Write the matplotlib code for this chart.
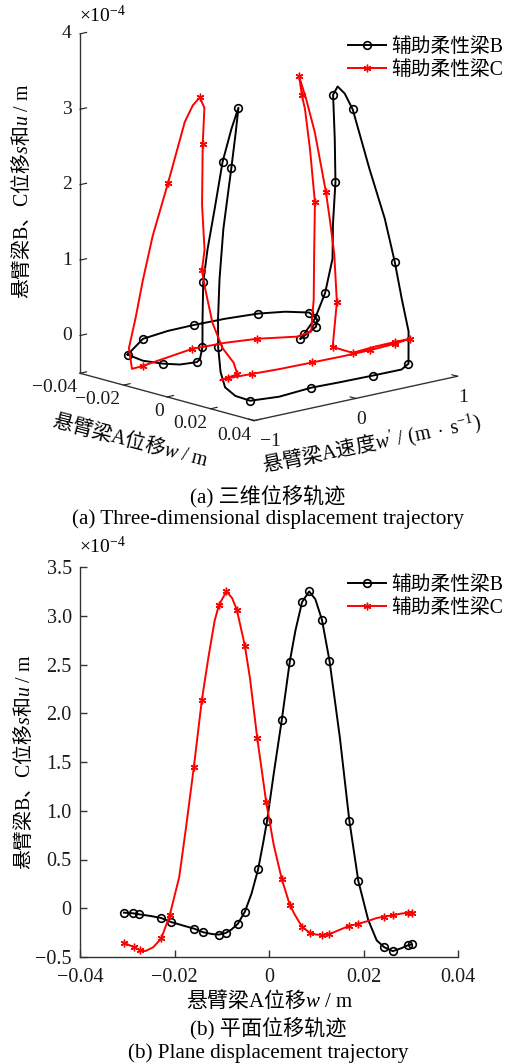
import numpy as np
import matplotlib
matplotlib.use("Agg")
import matplotlib.pyplot as plt

plt.rcParams['font.family'] = ['Liberation Serif', 'Noto Sans CJK SC']
plt.rcParams['mathtext.fontset'] = 'custom'
plt.rcParams['mathtext.rm'] = 'Liberation Serif'
plt.rcParams['mathtext.sf'] = 'Liberation Serif'
plt.rcParams['mathtext.it'] = 'Liberation Serif:italic'
plt.rcParams['axes.unicode_minus'] = True

# ---- (a) 3D trajectory: w (m), w' (m/s), s/u (x1e-4 m) ----
w3_b = [-0.0214, -0.0281, -0.0297, -0.0299, -0.0294, -0.0282, -0.0258, -0.0225, -0.0186, -0.0152,
        -0.0101, -0.0061, -0.0044, -0.0024, -0.0006, 0.0010, 0.0029, 0.0043, 0.0070, 0.0090,
        0.0100, 0.0113, 0.0140, 0.0157, 0.0169, 0.0186, 0.0208, 0.0245, 0.0272, 0.0270,
        0.0265, 0.0293, 0.0305, 0.0298, 0.0236, 0.0220, 0.0202, 0.0188, 0.0180, 0.0164,
        0.0148, 0.0132, 0.0112, 0.0086, 0.0065, 0.0042, 0.0027, 0.0010, -0.0003, -0.0024,
        -0.0049, -0.0072, -0.0085, -0.0108, -0.0137, -0.0170, -0.0214]
v3_b = [-0.930, -0.636, -0.356, -0.095, 0.200, 0.500, 0.713, 0.880, 0.875, 0.790,
        0.525, 0.476, 0.550, 0.605, 0.640, 0.610, 0.594, 0.557, 0.483, 0.485,
        0.533, 0.584, 0.690, 0.805, 0.877, 0.910, 0.930, 0.850, 0.724, 0.443,
        0.126, -0.208, -0.550, -0.820, -0.834, -0.900, -0.906, -0.900, -0.884, -0.835,
        -0.763, -0.650, -0.566, -0.482, -0.506, -0.544, -0.590, -0.623, -0.638, -0.600,
        -0.547, -0.524, -0.525, -0.644, -0.749, -0.875, -0.930]
s3_b = [-0.128, -0.057, -0.047, -0.046, -0.047, -0.057, -0.076, -0.110, -0.170, -0.215,
        -0.260, -0.152, 0.052, 0.385, 0.845, 1.325, 1.905, 2.500, 3.125, 3.250,
        3.150, 2.935, 2.140, 1.457, 0.875, 0.385, -0.035, -0.410, -0.430, -0.430,
        -0.430, -0.380, -0.390, -0.370, -0.350, -0.230, -0.040, 0.280, 0.643, 1.145,
        1.775, 2.540, 2.950, 3.250, 2.960, 2.515, 1.892, 1.358, 0.912, 0.393,
        -0.015, -0.200, -0.245, -0.260, -0.240, -0.190, -0.128]
mk3_b = [0, 1, 3, 5, 7, 9, 10, 11, 12, 13, 16, 18, 21, 24, 27, 29, 31, 33, 37, 41, 43, 45, 48, 50, 52, 54]

w3_c = [0.0214, 0.0281, 0.0297, 0.0299, 0.0294, 0.0282, 0.0258, 0.0225, 0.0186, 0.0152,
        0.0101, 0.0061, 0.0044, 0.0024, 0.0006, -0.0002, -0.0010, -0.0029, -0.0053, -0.0070,
        -0.0090, -0.0100, -0.0113, -0.0140, -0.0157, -0.0169, -0.0186, -0.0208, -0.0275, -0.0278,
        -0.0287, -0.0304, -0.0297, -0.0287, -0.0257, -0.0240, -0.0199, -0.0176, -0.0157, -0.0140,
        -0.0120, -0.0112, -0.0086, -0.0065, -0.0042, -0.0020, -0.0010, 0.0003, 0.0028, 0.0075,
        0.0143, 0.0137, 0.0170, 0.0214]
v3_c = [0.930, 0.636, 0.356, 0.095, -0.200, -0.500, -0.713, -0.880, -0.875, -0.790,
        -0.525, -0.476, -0.550, -0.605, -0.640, -0.653, -0.610, -0.594, -0.536, -0.483,
        -0.485, -0.533, -0.584, -0.690, -0.805, -0.877, -0.910, -0.930, -0.757, -0.645,
        -0.426, -0.103, 0.207, 0.500, 0.830, 0.930, 0.868, 0.823, 0.790, 0.705,
        0.613, 0.566, 0.482, 0.506, 0.544, 0.605, 0.623, 0.638, 0.610, 0.468,
        0.519, 0.749, 0.875, 0.930]
s3_c = [-0.128, -0.057, -0.047, -0.046, -0.047, -0.057, -0.076, -0.110, -0.170, -0.215,
        -0.260, -0.152, 0.052, 0.385, 0.845, 1.076, 1.325, 1.905, 2.675, 3.125,
        3.250, 3.150, 2.935, 2.140, 1.457, 0.875, 0.385, -0.035, -0.415, -0.412,
        -0.390, -0.365, -0.370, -0.395, -0.440, -0.390, 0.087, 0.717, 1.432, 2.175,
        2.748, 2.950, 3.250, 2.960, 2.515, 1.730, 1.358, 0.912, 0.307, -0.210,
        -0.250, -0.240, -0.190, -0.128]
mk3_c = [0, 1, 2, 4, 6, 7, 10, 15, 18, 20, 23, 29, 31, 33, 38, 41, 42, 45, 48, 49, 50, 52]

# ---- (b) plane trajectory ----
w2_b = [-0.0307, -0.0287, -0.0275, -0.0250, -0.0228, -0.0208, -0.0180, -0.0158, -0.0140, -0.0120,
        -0.0106, -0.0092, -0.0080, -0.0066, -0.0051, -0.0037, -0.0023, -0.0012, -0.0004, 0.0010,
        0.0027, 0.0044, 0.0056, 0.0070, 0.0085, 0.0098, 0.0112, 0.0128, 0.0150, 0.0170,
        0.0189, 0.0210, 0.0228, 0.0244, 0.0262, 0.0280, 0.0294, 0.0302]
s2_b = [-0.045, -0.052, -0.062, -0.080, -0.100, -0.140, -0.180, -0.210, -0.245, -0.265,
        -0.270, -0.255, -0.220, -0.160, -0.035, 0.150, 0.400, 0.680, 0.900, 1.380,
        1.930, 2.530, 2.850, 3.140, 3.250, 3.170, 2.960, 2.540, 1.750, 0.900,
        0.280, -0.120, -0.330, -0.400, -0.440, -0.410, -0.380, -0.370]
mk2_b = [0, 1, 2, 4, 5, 7, 8, 10, 11, 13, 14, 16, 18, 20, 21, 23, 24, 26, 27, 29, 30, 33, 34, 36, 37]

w2_c = [-0.0307, -0.0295, -0.0285, -0.0273, -0.0262, -0.0245, -0.0228, -0.0210, -0.0190, -0.0175,
        -0.0159, -0.0142, -0.0128, -0.0115, -0.0106, -0.0090, -0.0078, -0.0068, -0.0051, -0.0040,
        -0.0025, -0.0012, -0.0006, 0.0010, 0.0027, 0.0044, 0.0055, 0.0070, 0.0086, 0.0100,
        0.0113, 0.0128, 0.0150, 0.0170, 0.0189, 0.0210, 0.0228, 0.0244, 0.0262, 0.0280,
        0.0294, 0.0302]
s2_c = [-0.355, -0.380, -0.400, -0.430, -0.440, -0.400, -0.310, -0.070, 0.320, 0.850,
        1.450, 2.140, 2.580, 2.950, 3.110, 3.250, 3.180, 3.060, 2.690, 2.350,
        1.750, 1.300, 1.090, 0.650, 0.300, 0.035, -0.070, -0.190, -0.250, -0.270,
        -0.275, -0.265, -0.220, -0.180, -0.160, -0.130, -0.100, -0.086, -0.072, -0.055,
        -0.045, -0.045]
mk2_c = [0, 2, 3, 6, 7, 10, 11, 14, 15, 17, 18, 20, 22, 24, 25, 27, 28, 30, 31, 33, 34, 37, 38, 40, 41]

names = ['辅助柔性梁B', '辅助柔性梁C']
w_ticks = [-0.04, -0.02, 0, 0.02, 0.04]
w_ticklabels = ['−0.04', '−0.02', '0', '0.02', '0.04']
v_ticks = [-1, 0, 1]
v_ticklabels = ['−1', '0', '1']
z3_ticks = [0, 1, 2, 3, 4]
y2_ticks = [-0.5, 0, 0.5, 1.0, 1.5, 2.0, 2.5, 3.0, 3.5]
y2_ticklabels = ['−0.5', '0', '0.5', '1.0', '1.5', '2.0', '2.5', '3.0', '3.5']

lbl_su = r'悬臂梁$\mathsf{B}$、$\mathsf{C}$位移$s$和$u\mathsf{\ /\ m}$'
lbl_w = r'悬臂梁$\mathsf{A}$位移$w\mathsf{\ /\ m}$'
lbl_v = r"悬臂梁$\mathsf{A}$速度$w'\mathsf{\ /\ (m}\ \cdot\ \mathsf{s}^{-1}\mathsf{)}$"
cjk = 'Noto Sans CJK SC'

W, H = 509, 1064
fig = plt.figure(figsize=(W / 100, H / 100), dpi=100)

sty_b = dict(color='black', lw=1.4, marker='o', ms=5.5, mfc='none', mec='black', mew=1.2)
sty_c = dict(color='red', lw=1.4, marker=(6, 2, 0), ms=5.5, mec='red', mew=1.0)

# ---------------- 3D panel ----------------
ax3 = fig.add_axes([12.1 / W, 1 - 461.7 / H, 499.8 / W, 499.8 / H],
                   projection='3d', proj_type='ortho')
ax3.view_init(elev=14.09, azim=-41.84)
ax3.set_box_aspect((1, 1.046, 1.341))
lb, = ax3.plot(w3_b, v3_b, s3_b, markevery=mk3_b, label=names[0], **sty_b)
lc, = ax3.plot(w3_c, v3_c, s3_c, markevery=mk3_c, label=names[1], **sty_c)
ax3.set_xlim(-0.04, 0.04)
ax3.set_ylim(-1, 1)
ax3.set_zlim(-0.5, 4)
ax3.set_xticks(w_ticks, w_ticklabels)
ax3.set_yticks(v_ticks, v_ticklabels)
ax3.set_zticks(z3_ticks)
ax3.zaxis.set_ticks_position('lower')
ax3.grid(False)
ax3.set_facecolor('none')
for axis in (ax3.xaxis, ax3.yaxis, ax3.zaxis):
    axis.set_pane_color((1, 1, 1, 0))
    axis.pane.set_edgecolor((1, 1, 1, 0))
    axis.line.set_color('0.2')
    axis.line.set_linewidth(1.0)
    axis._axinfo['tick']['inward_factor'] = 0.0
    axis._axinfo['tick']['outward_factor'] = 0.4
ax3.tick_params(labelsize=14, colors='0.1')
ax3.tick_params(axis='x', pad=-5)
ax3.tick_params(axis='y', pad=-2)
ax3.tick_params(axis='z', pad=-1.5)
for t in ax3.xaxis.get_major_ticks():
    t.label1.set_horizontalalignment('right')
    t.label1.set_verticalalignment('top')
for i, t in enumerate(ax3.yaxis.get_major_ticks()):
    t.label1.set_horizontalalignment('left' if i == 0 else 'center')
    t.label1.set_verticalalignment('top')
for t in ax3.zaxis.get_major_ticks():
    t.label1.set_horizontalalignment('center')
    t.label1.set_verticalalignment('center')

fig.text(22 / W, 1 - 191 / H, lbl_su, rotation=90, family=cjk,
         ha='center', va='center', fontsize=14.3)
fig.text(131 / W, 1 - 440 / H, lbl_w, rotation=-14.5, family=cjk,
         ha='center', va='center', fontsize=14.5, rotation_mode='anchor')
fig.text(372 / W, 1 - 444 / H, lbl_v, rotation=11.5, family=cjk,
         ha='center', va='center', fontsize=14.5, rotation_mode='anchor')
fig.text(79 / W, 1 - 16 / H, '×10$^{-4}$', ha='left', va='center', fontsize=14)
fig.legend([lb, lc], names, loc='upper right', bbox_to_anchor=(1.005, 1 - 30 / H),
           frameon=False, fontsize=14.2, handlelength=1.9, handletextpad=0.3,
           labelspacing=0.22, borderaxespad=0)
fig.text(268 / W, 1 - 496 / H, '(a) 三维位移轨迹', ha='center', va='center', fontsize=15.2)
fig.text(268 / W, 1 - 519 / H, '(a) Three-dimensional displacement trajectory',
         ha='center', va='center', fontsize=15.2)

# ---------------- 2D panel ----------------
ax2 = fig.add_axes([80 / W, 1 - 957 / H, 378 / W, 390 / H])
l2b, = ax2.plot(w2_b, s2_b, markevery=mk2_b, **sty_b)
l2c, = ax2.plot(w2_c, s2_c, markevery=mk2_c, **sty_c)
ax2.set_xlim(-0.04, 0.04)
ax2.set_ylim(-0.5, 3.5)
ax2.set_xticks(w_ticks, w_ticklabels)
ax2.set_yticks(y2_ticks, y2_ticklabels)
for side in ('top', 'right'):
    ax2.spines[side].set_visible(False)
for side in ('left', 'bottom'):
    ax2.spines[side].set_color('0.2')
    ax2.spines[side].set_linewidth(1.0)
ax2.tick_params(direction='in', length=5, width=1.0, colors='0.2',
                labelcolor='0.1', labelsize=14.5)
ax2.tick_params(axis='x', pad=8)
ax2.tick_params(axis='y', pad=6)
ax2.set_xlabel(lbl_w, fontsize=15, family=cjk, labelpad=1)
ax2.set_ylabel(lbl_su, fontsize=14.3, family=cjk, labelpad=0)
fig.text(79 / W, 1 - 547 / H, '×10$^{-4}$', ha='left', va='center', fontsize=14)
ax2.legend([l2b, l2c], names, loc='upper right', bbox_to_anchor=(1.005, 1 - 568 / H),
           bbox_transform=fig.transFigure, frameon=False, fontsize=14.2,
           handlelength=1.9, handletextpad=0.3, labelspacing=0.22, borderaxespad=0)
fig.text(268 / W, 1 - 1028 / H, '(b) 平面位移轨迹', ha='center', va='center', fontsize=15.2)
fig.text(268 / W, 1 - 1053 / H, '(b) Plane displacement trajectory',
         ha='center', va='center', fontsize=15.2)

fig.savefig('out.png', dpi=100)
